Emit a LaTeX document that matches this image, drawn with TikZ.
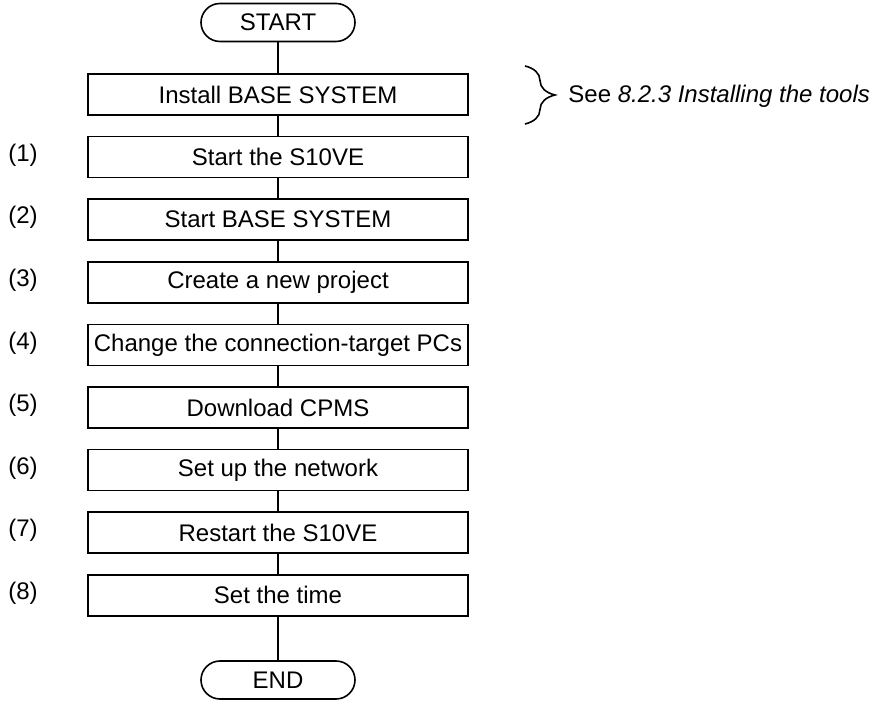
\documentclass[tikz,border=0pt]{standalone}
\usepackage{fontspec}
\setmainfont{Liberation Sans}
\usetikzlibrary{decorations.pathreplacing}
\tikzset{
  stepbox/.style={draw, thick, minimum width=190pt, minimum height=20.5pt, inner sep=0pt},
  termbox/.style={draw, thick, rounded corners=9.5pt, minimum width=77pt, minimum height=19pt, inner sep=0pt},
  numlabel/.style={inner sep=0pt}
}
\begin{document}
\begin{tikzpicture}[x=0.5pt, y=-0.5pt, font=\fontsize{12pt}{14pt}\selectfont]
  \useasboundingbox (0,0) rectangle (884,704);
  \node[termbox] (start) at (278,22.5) {START};
  \node[stepbox] (inst) at (278,94.5) {Install BASE SYSTEM};
  \node[stepbox] (s1) at (278,157.1) {Start the S10VE};
  \node[stepbox] (s2) at (278,219.7) {Start BASE SYSTEM};
  \node[stepbox] (s3) at (278,282.3) {Create a new project};
  \node[stepbox] (s4) at (278,344.9) {Change the connection-target PCs};
  \node[stepbox] (s5) at (278,407.5) {Download CPMS};
  \node[stepbox] (s6) at (278,470.1) {Set up the network};
  \node[stepbox] (s7) at (278,532.7) {Restart the S10VE};
  \node[stepbox] (s8) at (278,595.3) {Set the time};
  \node[termbox] (end) at (278,680) {END};
  % step numbers
  \node[numlabel] (n1) at (23,155) {(1)};
  \node[numlabel] (n2) at (23,217.6) {(2)};
  \node[numlabel] (n3) at (23,280.2) {(3)};
  \node[numlabel] (n4) at (23,342.8) {(4)};
  \node[numlabel] (n5) at (23,405.4) {(5)};
  \node[numlabel] (n6) at (23,468) {(6)};
  \node[numlabel] (n7) at (23,530.6) {(7)};
  \node[numlabel] (n8) at (23,593.2) {(8)};
  \draw[thick] (start) -- (inst);
  \draw[thick] (inst) -- (s1);
  \draw[thick] (s1) -- (s2);
  \draw[thick] (s2) -- (s3);
  \draw[thick] (s3) -- (s4);
  \draw[thick] (s4) -- (s5);
  \draw[thick] (s5) -- (s6);
  \draw[thick] (s6) -- (s7);
  \draw[thick] (s7) -- (s8);
  \draw[thick] (s8) -- (end);
  % brace with reference
  \coordinate (bt) at (525,66);
  \coordinate (bb) at (525,124);
  \draw[thick, decorate, decoration={brace, amplitude=15pt}] (bt) -- (bb);
  \node[anchor=west, inner sep=0pt] (see) at (568,96) {See \textit{8.2.3 Installing the tools}};
\end{tikzpicture}
\end{document}
